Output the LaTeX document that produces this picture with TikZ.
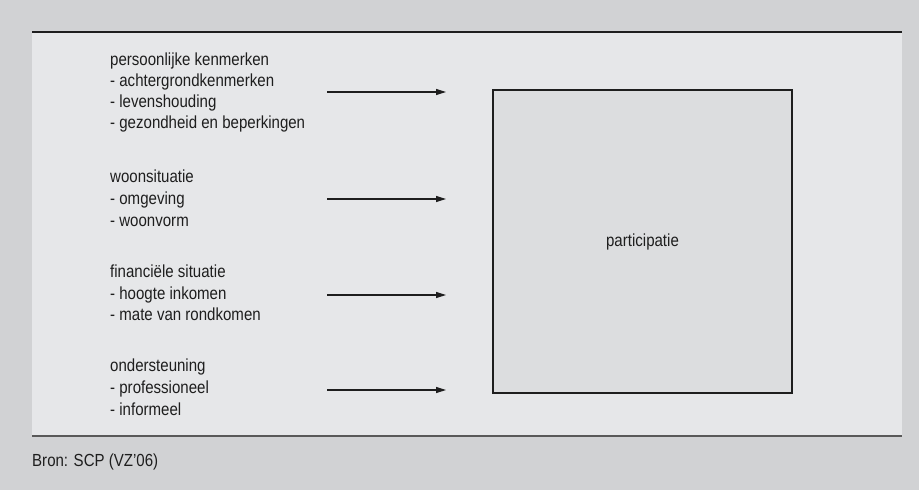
\documentclass[tikz,border=0pt]{standalone}
\usepackage{fontspec}
\setmainfont{Liberation Sans}[FakeStretch=0.86]
\usetikzlibrary{arrows.meta}
\definecolor{outerbg}{HTML}{D1D2D4}
\definecolor{innerbg}{HTML}{E6E7E9}
\definecolor{boxfill}{HTML}{DCDDDF}
\definecolor{ink}{HTML}{1E1E1E}
\tikzset{
  lbl/.style={anchor=base west, inner sep=0pt, text=ink, font=\fontsize{17.5}{21}\selectfont},
  arr/.style={draw=ink, line width=1.2pt, -{Triangle[length=10pt,width=6pt]}},
}
\begin{document}
\begin{tikzpicture}[x=1pt,y=-1pt]
\fill[outerbg] (0,0) rectangle (919,490);
\useasboundingbox (0,0) rectangle (919,490);
\fill[innerbg] (32,32) rectangle (902,436);
\draw[ink, line width=1.5pt] (32,32) -- (902,32);
\draw[black!65, line width=1.5pt] (32,436) -- (902,436);
% box
\node[draw=ink, line width=1.3pt, fill=boxfill, minimum width=299pt, minimum height=303pt, inner sep=0pt,
  font=\fontsize{17.5}{21}\selectfont, text=ink] (part) at (642.5,241.5) {participatie};
% group 1
\node[lbl] (g1a) at (110,65) {persoonlijke kenmerken};
\node[lbl] (g1b) at (110,86) {- achtergrondkenmerken};
\node[lbl] (g1c) at (110,107) {- levenshouding};
\node[lbl] (g1d) at (110,128) {- gezondheid en beperkingen};
% group 2
\node[lbl] (g2a) at (110,182) {woonsituatie};
\node[lbl] (g2b) at (110,204) {- omgeving};
\node[lbl] (g2c) at (110,226) {- woonvorm};
% group 3
\node[lbl] (g3a) at (110,277) {financiële situatie};
\node[lbl] (g3b) at (110,299) {- hoogte inkomen};
\node[lbl] (g3c) at (110,320) {- mate van rondkomen};
% group 4
\node[lbl] (g4a) at (110,371) {ondersteuning};
\node[lbl] (g4b) at (110,393) {- professioneel};
\node[lbl] (g4c) at (110,415) {- informeel};
% source
\node[lbl] (src) at (32,466) {Bron: SCP (VZ’06)};
% arrows
\coordinate (a1s) at (327,92);  \coordinate (a1e) at (446,92);
\coordinate (a2s) at (327,199); \coordinate (a2e) at (446,199);
\coordinate (a3s) at (327,295); \coordinate (a3e) at (446,295);
\coordinate (a4s) at (327,390); \coordinate (a4e) at (446,390);
\draw[arr] (a1s) -- (a1e);
\draw[arr] (a2s) -- (a2e);
\draw[arr] (a3s) -- (a3e);
\draw[arr] (a4s) -- (a4e);
\end{tikzpicture}
\end{document}
